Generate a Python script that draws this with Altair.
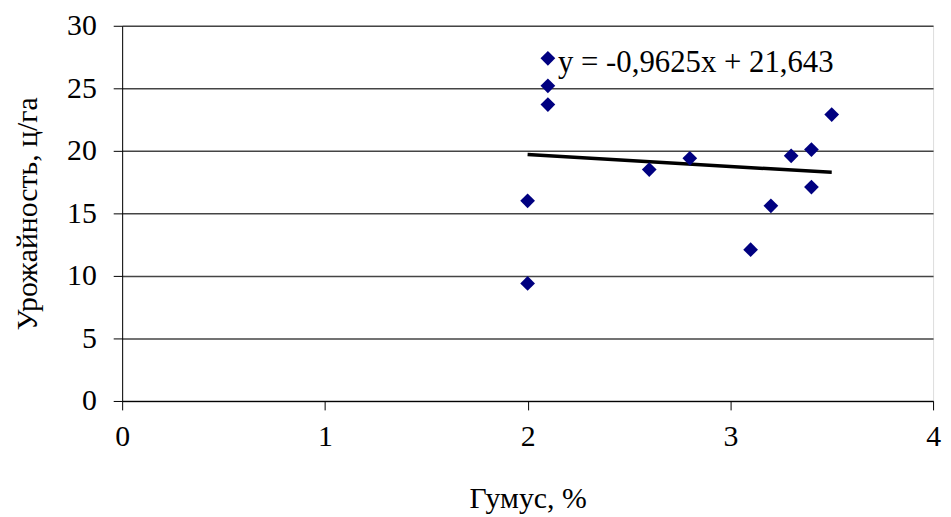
import altair as alt
import pandas as pd

humus = [2.0, 2.0, 2.1, 2.1, 2.1, 2.6, 2.8, 3.1, 3.2, 3.3, 3.4, 3.4, 3.5]
yield_ = [9.4, 16.0, 27.4, 25.2, 23.7, 18.5, 19.4, 12.1, 15.6, 19.6, 20.1, 17.1, 22.9]

eq_text = ["y = -0,9625x + 21,643"]
eq_x = [2.15]
eq_y = [27.0]

x_ticks = [0, 1, 2, 3, 4]
y_ticks = [0, 5, 10, 15, 20, 25, 30]

df = pd.DataFrame({"x": humus, "y": yield_})
eq = pd.DataFrame({"x": eq_x, "y": eq_y, "t": eq_text})

FONT = "Liberation Serif"

xs = alt.Scale(domain=[0, 4], nice=False)
ys = alt.Scale(domain=[0, 30], nice=False)

xax = alt.Axis(values=x_ticks, format="d", grid=False, title="Гумус, %", labelFontSize=30,
               titleFontSize=30, labelFont=FONT, titleFont=FONT, tickSize=9,
               labelPadding=12, titlePadding=32, domainColor="black", tickColor="black",
               labelColor="black", titleColor="black", titleFontWeight="normal",
               labelFlush=False, labelOverlap=False)
yax = alt.Axis(values=y_ticks, format="d", grid=True, gridColor="#444444", gridWidth=1.5,
               title="Урожайность, ц/га", labelFontSize=30, titleFontSize=30,
               labelFont=FONT, titleFont=FONT, tickSize=9, labelPadding=17,
               titlePadding=24, domainColor="black", tickColor="black",
               labelColor="black", titleColor="black", titleFontWeight="normal",
               labelFlush=False, labelOverlap=False)

base = alt.Chart(df)

pts = base.mark_point(shape="diamond", filled=True, color="#000080", size=220, opacity=1).encode(
    x=alt.X("x:Q", scale=xs, axis=xax),
    y=alt.Y("y:Q", scale=ys, axis=yax),
)

trend = base.transform_regression("x", "y").mark_line(color="black", strokeWidth=3.5).encode(
    x=alt.X("x:Q", scale=xs),
    y=alt.Y("y:Q", scale=ys),
)

label = alt.Chart(eq).mark_text(align="left", baseline="middle", font=FONT, fontSize=31,
                                color="black").encode(
    x=alt.X("x:Q", scale=xs),
    y=alt.Y("y:Q", scale=ys),
    text="t:N",
)

chart = alt.layer(trend, pts, label).properties(
    width=817, height=378,
    autosize=alt.AutoSizeParams(type="none"),
    padding={"left": 115, "top": 16, "right": 10, "bottom": 115},
).configure_view(stroke=None).configure(background="white")

chart.save("out.html", embed_options={"renderer": "svg", "actions": False})
